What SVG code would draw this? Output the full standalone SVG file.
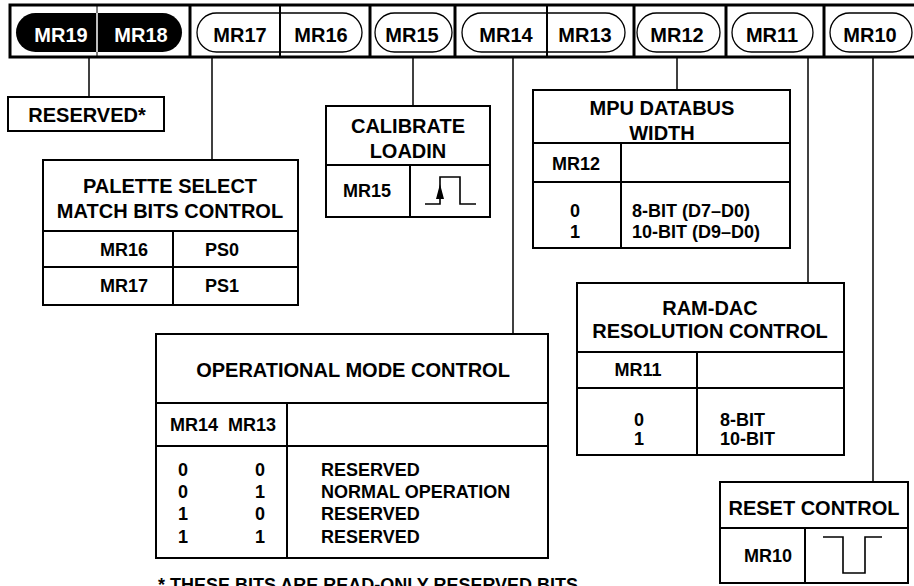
<svg xmlns="http://www.w3.org/2000/svg" width="914" height="586" viewBox="0 0 914 586">
<style>
text{font-family:"Liberation Sans",Arial,Helvetica,sans-serif;font-weight:bold;fill:#000}
.bl{font-size:20px;text-anchor:middle}
.h{font-size:20px;text-anchor:middle}
.t{font-size:18px}
.c{text-anchor:middle}
.box{fill:#fff;stroke:#000;stroke-width:2}
.ln{fill:none;stroke:#000;stroke-width:2}
.pill{fill:#fff;stroke:#000;stroke-width:1.3}
.con{fill:none;stroke:#000;stroke-width:1.5}
.sig{fill:none;stroke:#000;stroke-width:1.6}
</style>
<rect width="914" height="586" fill="#fff"/>

<g id="register">
<rect x="10" y="5" width="910" height="52" fill="#fff" stroke="#000" stroke-width="3"/>
<g stroke="#000" stroke-width="3">
<line x1="190" y1="5" x2="190" y2="57"/>
<line x1="370" y1="5" x2="370" y2="57"/>
<line x1="455" y1="5" x2="455" y2="57"/>
<line x1="634" y1="5" x2="634" y2="57"/>
<line x1="726" y1="5" x2="726" y2="57"/>
<line x1="824" y1="5" x2="824" y2="57"/>
</g>
<rect x="16" y="13" width="166" height="39" rx="19.5" fill="#000"/>
<line x1="97" y1="5" x2="97" y2="57" stroke="#000" stroke-width="1"/>
<line x1="97" y1="13" x2="97" y2="52" stroke="#fff" stroke-width="1.5"/>
<rect class="pill" x="197" y="13" width="165" height="39" rx="19.5"/>
<line x1="280" y1="5" x2="280" y2="57" stroke="#000" stroke-width="2"/>
<rect class="pill" x="375" y="13" width="77" height="39" rx="19.5"/>
<rect class="pill" x="462" y="13" width="163" height="39" rx="19.5"/>
<line x1="547" y1="5" x2="547" y2="57" stroke="#000" stroke-width="2"/>
<rect class="pill" x="637" y="13" width="83" height="39" rx="19.5"/>
<rect class="pill" x="732" y="13" width="81" height="39" rx="19.5"/>
<rect class="pill" x="830" y="13" width="82" height="39" rx="19.5"/>
<text class="bl" x="61" y="42" style="fill:#fff">MR19</text>
<text class="bl" x="141" y="42" style="fill:#fff">MR18</text>
<text class="bl" x="240" y="42">MR17</text>
<text class="bl" x="321" y="42">MR16</text>
<text class="bl" x="412" y="42">MR15</text>
<text class="bl" x="506" y="42">MR14</text>
<text class="bl" x="585" y="42">MR13</text>
<text class="bl" x="677" y="42">MR12</text>
<text class="bl" x="772" y="42">MR11</text>
<text class="bl" x="870" y="42">MR10</text>
</g>

<g id="connectors">
<line class="con" x1="89" y1="57" x2="89" y2="97"/>
<line class="con" x1="212" y1="57" x2="212" y2="160"/>
<line class="con" x1="413" y1="57" x2="413" y2="106"/>
<line class="con" x1="513" y1="57" x2="513" y2="334"/>
<line class="con" x1="677" y1="57" x2="677" y2="90"/>
<line class="con" x1="808" y1="57" x2="808" y2="283"/>
<line class="con" x1="873" y1="57" x2="873" y2="482"/>
</g>

<g id="reserved">
<rect class="box" x="8" y="97" width="156" height="34"/>
<text class="h" x="87" y="122">RESERVED*</text>
</g>

<g id="palette">
<rect class="box" x="43" y="160" width="255" height="145"/>
<line class="ln" x1="43" y1="231" x2="298" y2="231"/>
<line class="ln" x1="43" y1="267" x2="298" y2="267"/>
<line class="ln" x1="173" y1="231" x2="173" y2="305"/>
<text class="h" x="170" y="193">PALETTE SELECT</text>
<text class="h" x="170" y="218">MATCH BITS CONTROL</text>
<text class="t" x="100" y="256">MR16</text>
<text class="t" x="205" y="256">PS0</text>
<text class="t" x="100" y="292">MR17</text>
<text class="t" x="205" y="292">PS1</text>
</g>

<g id="calibrate">
<rect class="box" x="326" y="106" width="164" height="111"/>
<line class="ln" x1="326" y1="165" x2="490" y2="165"/>
<line class="ln" x1="410" y1="165" x2="410" y2="217"/>
<text class="h" x="408" y="133">CALIBRATE</text>
<text class="h" x="408" y="158">LOADIN</text>
<text class="t c" x="367" y="197">MR15</text>
<polyline class="sig" points="425,204 440,204 440,177 460,177 460,204 476,204"/>
<polygon points="440,184 436,199 444,199" fill="#000"/>
</g>

<g id="mpu">
<rect class="box" x="533" y="90" width="257" height="158"/>
<line class="ln" x1="533" y1="143" x2="790" y2="143"/>
<line class="ln" x1="533" y1="182" x2="790" y2="182"/>
<line class="ln" x1="621" y1="143" x2="621" y2="248"/>
<text class="h" x="662" y="115">MPU DATABUS</text>
<text class="h" x="662" y="140">WIDTH</text>
<text class="t c" x="576" y="170">MR12</text>
<text class="t c" x="575" y="217">0</text>
<text class="t c" x="575" y="238">1</text>
<text class="t" x="632" y="217">8-BIT (D7–D0)</text>
<text class="t" x="632" y="238">10-BIT (D9–D0)</text>
</g>

<g id="ramdac">
<rect class="box" x="577" y="283" width="267" height="172"/>
<line class="ln" x1="577" y1="352" x2="844" y2="352"/>
<line class="ln" x1="577" y1="388" x2="844" y2="388"/>
<line class="ln" x1="697" y1="352" x2="697" y2="455"/>
<text class="h" x="710" y="315">RAM-DAC</text>
<text class="h" x="710" y="338">RESOLUTION CONTROL</text>
<text class="t c" x="638" y="376">MR11</text>
<text class="t c" x="639" y="426">0</text>
<text class="t c" x="639" y="445">1</text>
<text class="t" x="720" y="426">8-BIT</text>
<text class="t" x="720" y="445">10-BIT</text>
</g>

<g id="opmode">
<rect class="box" x="156" y="334" width="392" height="224"/>
<line class="ln" x1="156" y1="403" x2="548" y2="403"/>
<line class="ln" x1="156" y1="446" x2="548" y2="446"/>
<line class="ln" x1="287" y1="403" x2="287" y2="558"/>
<text class="h" x="353" y="377">OPERATIONAL MODE CONTROL</text>
<text class="t" x="170" y="431">MR14</text>
<text class="t" x="276" y="431" text-anchor="end">MR13</text>
<text class="t" x="178" y="476">0</text>
<text class="t" x="255" y="476">0</text>
<text class="t" x="321" y="476">RESERVED</text>
<text class="t" x="178" y="498">0</text>
<text class="t" x="255" y="498">1</text>
<text class="t" x="321" y="498">NORMAL OPERATION</text>
<text class="t" x="178" y="520">1</text>
<text class="t" x="255" y="520">0</text>
<text class="t" x="321" y="520">RESERVED</text>
<text class="t" x="178" y="543">1</text>
<text class="t" x="255" y="543">1</text>
<text class="t" x="321" y="543">RESERVED</text>
</g>

<g id="reset">
<rect class="box" x="720" y="482" width="188" height="101"/>
<line class="ln" x1="720" y1="528" x2="908" y2="528"/>
<line class="ln" x1="805" y1="528" x2="805" y2="583"/>
<text class="h" x="814" y="515">RESET CONTROL</text>
<text class="t c" x="768" y="562">MR10</text>
<polyline class="sig" points="823,537 843,537 843,573 865,573 865,537 882,537"/>
</g>

<g id="footnote">
<text class="t" x="158" y="591">* THESE BITS ARE READ-ONLY RESERVED BITS.</text>
</g>
</svg>
